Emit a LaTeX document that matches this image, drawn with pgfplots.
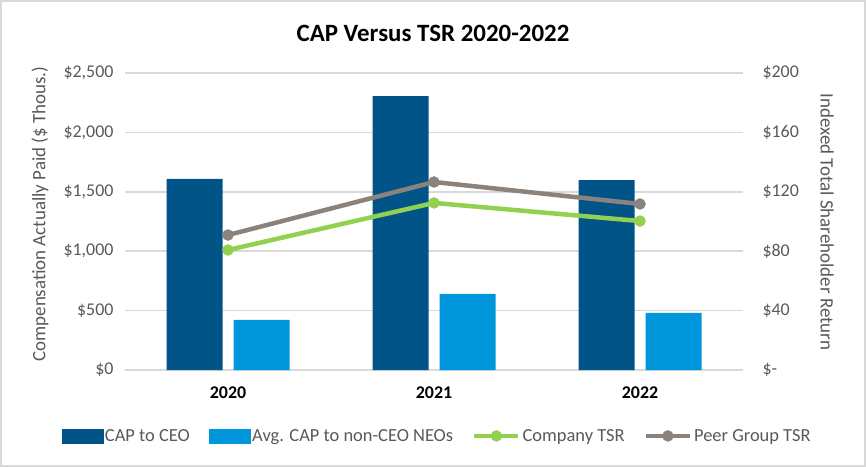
\documentclass[border=0pt]{standalone}
\usepackage{pgfplots}
\pgfplotsset{compat=1.18}
\usepackage{fontspec}
\setmainfont{Carlito}
\definecolor{ceo}{RGB}{0,84,136}
\definecolor{neo}{RGB}{0,150,219}
\definecolor{comp}{RGB}{146,208,80}
\definecolor{peer}{RGB}{140,130,124}
\definecolor{txt}{RGB}{89,89,89}
\definecolor{grd}{RGB}{217,217,217}
\pgfplotsset{
  linelegend/.style={legend image code/.code={\draw[mark repeat=2,mark phase=2,##1] plot coordinates {(0bp,0bp) (22bp,0bp) (44bp,0bp)};}},
  ceolegend/.style={legend image code/.code={\fill[ceo] (0bp,-7bp) rectangle (41bp,7bp);}},
  neolegend/.style={legend image code/.code={\fill[neo] (0bp,-7bp) rectangle (41bp,7bp);}},
}
\begin{document}
\begin{tikzpicture}
\path[use as bounding box] (0,0) rectangle (866bp,467bp);
\draw[grd, line width=2bp] (1bp,1bp) rectangle (865bp,466bp);
\begin{axis}[
  at={(125bp,97bp)}, anchor=south west,
  scale only axis, width=618bp, height=297bp,
  xmin=-0.5, xmax=2.5, ymin=0, ymax=2500,
  xtick={0,1,2}, xticklabels={2020,2021,2022},
  ytick={0,500,...,2500},
  yticklabels={\$0,\$500,{\$1,000},{\$1,500},{\$2,000},{\$2,500}},
  axis line style={draw=none}, major tick length=0,
  ymajorgrids, grid style={grd, line width=1.5bp},
  ticklabel style={font=\fontsize{18}{20}\selectfont, text=txt},
  xticklabel style={font=\fontsize{18}{20}\selectfont\bfseries, text=black, yshift=-13bp},
  yticklabel style={xshift=-8bp},
  clip=false,
]
\addplot[ybar, bar width=56bp, bar shift=-33.5bp, fill=ceo, draw=none] coordinates {(0,1608) (1,2306) (2,1599)};
\addplot[ybar, bar width=56bp, bar shift=33.5bp, fill=neo, draw=none] coordinates {(0,421) (1,640) (2,480)};
\end{axis}
\begin{axis}[
  at={(125bp,97bp)}, anchor=south west,
  scale only axis, width=618bp, height=297bp,
  xmin=-0.5, xmax=2.5, ymin=0, ymax=200,
  axis x line=none, axis y line*=right,
  axis line style={draw=none}, major tick length=0,
  ytick={0,40,...,200},
  yticklabels={\$-,\$40,\$80,\$120,\$160,\$200},
  yticklabel style={font=\fontsize{18}{20}\selectfont, text=txt, anchor=west, xshift=16bp},
  clip=false,
  legend columns=4,
  legend style={at={(0.505,-0.222)}, anchor=center, draw=none, fill=none,
    font=\fontsize{18.5}{20}\selectfont, text=txt,
    /tikz/every even column/.append style={column sep=17bp}},
]
\addlegendimage{ceolegend}
\addlegendentry{CAP to CEO}
\addlegendimage{neolegend}
\addlegendentry{Avg. CAP to non-CEO NEOs}
\addplot[comp, line width=4.5bp, mark=*, mark size=5.5bp, mark options={line width=0.4bp}, linelegend]
  coordinates {(0,80.8) (1,112.5) (2,100.3)};
\addlegendentry{Company TSR}
\addplot[peer, line width=4.5bp, mark=*, mark size=5.5bp, mark options={line width=0.4bp}, linelegend]
  coordinates {(0,90.9) (1,126.6) (2,111.8)};
\addlegendentry{Peer Group TSR}
\end{axis}
\node[font=\fontsize{25}{28}\selectfont\bfseries] at (433bp,434bp) {CAP Versus TSR 2020-2022};
\node[rotate=90, font=\fontsize{19}{21}\selectfont, text=txt] at (40bp,253bp) {Compensation Actually Paid (\$ Thous.)};
\node[rotate=-90, font=\fontsize{19}{21}\selectfont, text=txt] at (827bp,245bp) {Indexed Total Shareholder Return};
\end{tikzpicture}
\end{document}
